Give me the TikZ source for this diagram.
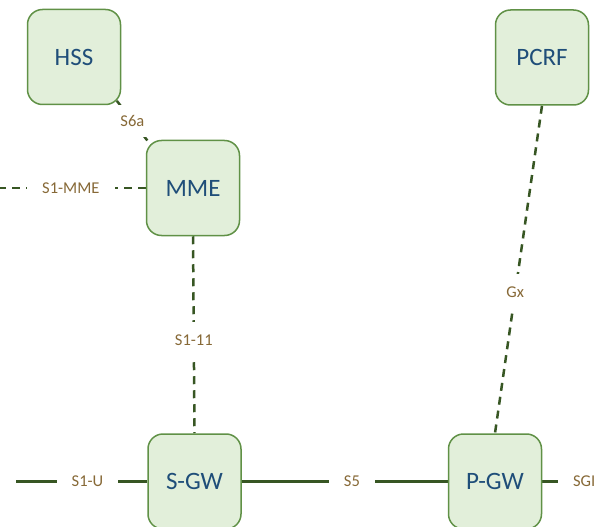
\documentclass[tikz,border=0pt]{standalone}
\usepackage{fontspec}
\setmainfont{Carlito}
\definecolor{boxfill}{RGB}{226,239,218}
\definecolor{boxborder}{RGB}{96,145,70}
\definecolor{boxtext}{RGB}{31,78,121}
\definecolor{lbltext}{RGB}{135,105,55}
\definecolor{linecol}{RGB}{55,86,35}
\pgfdeclarelayer{bg}
\pgfsetlayers{bg,main}
\begin{document}
\begin{tikzpicture}[x=1pt,y=-1pt,
  box/.style={draw=boxborder, fill=boxfill, line width=1.5pt, rounded corners=15pt,
    minimum width=93pt, minimum height=95pt, inner sep=0pt, text=boxtext,
    font=\fontsize{25}{30}\selectfont},
  lbl/.style={fill=white, text=lbltext, font=\fontsize{16.5}{20}\selectfont,
    inner xsep=15pt, inner ysep=13pt},
  conn/.style={draw=linecol, line width=2.5pt},
  dconn/.style={conn, dash pattern=on 8pt off 6pt}]
\useasboundingbox (0,0) rectangle (606,527);
\node[box] (HSS) at (74,57) {HSS};
\node[box] (PCRF) at (542,57.5) {PCRF};
\node[box] (MME) at (193,188) {MME};
\node[box] (SGW) at (194.5,481.5) {S-GW};
\node[box] (PGW) at (495,481.5) {P-GW};
\coordinate (mmeend) at (-4,188);
\coordinate (s1uend) at (16,481.5);
\coordinate (sgiend) at (626,481.5);
\begin{pgfonlayer}{bg}
\draw[dconn] ([shift={(-4.4pt,4.4pt)}]HSS.south east) -- node[lbl,pos=0.467,inner ysep=10pt,inner xsep=10pt]{S6a} ([shift={(4.4pt,-4.4pt)}]MME.north west);
\draw[dconn] (MME.west) -- node[lbl,pos=0.5]{S1-MME} (mmeend);
\draw[dconn] (MME.south) -- node[lbl,pos=0.53]{S1-11} (SGW.north);
\draw[dconn] (PCRF.south) -- node[lbl,pos=0.57]{Gx} (PGW.north);
\draw[conn] (SGW.west) -- node[lbl,pos=0.455]{S1-U} (s1uend);
\draw[conn] (SGW.east) -- node[lbl,pos=0.535]{S5} (PGW.west);
\draw[conn] (PGW.east) -- node[lbl,pos=0.5]{SGI} (sgiend);
\end{pgfonlayer}
\end{tikzpicture}
\end{document}
